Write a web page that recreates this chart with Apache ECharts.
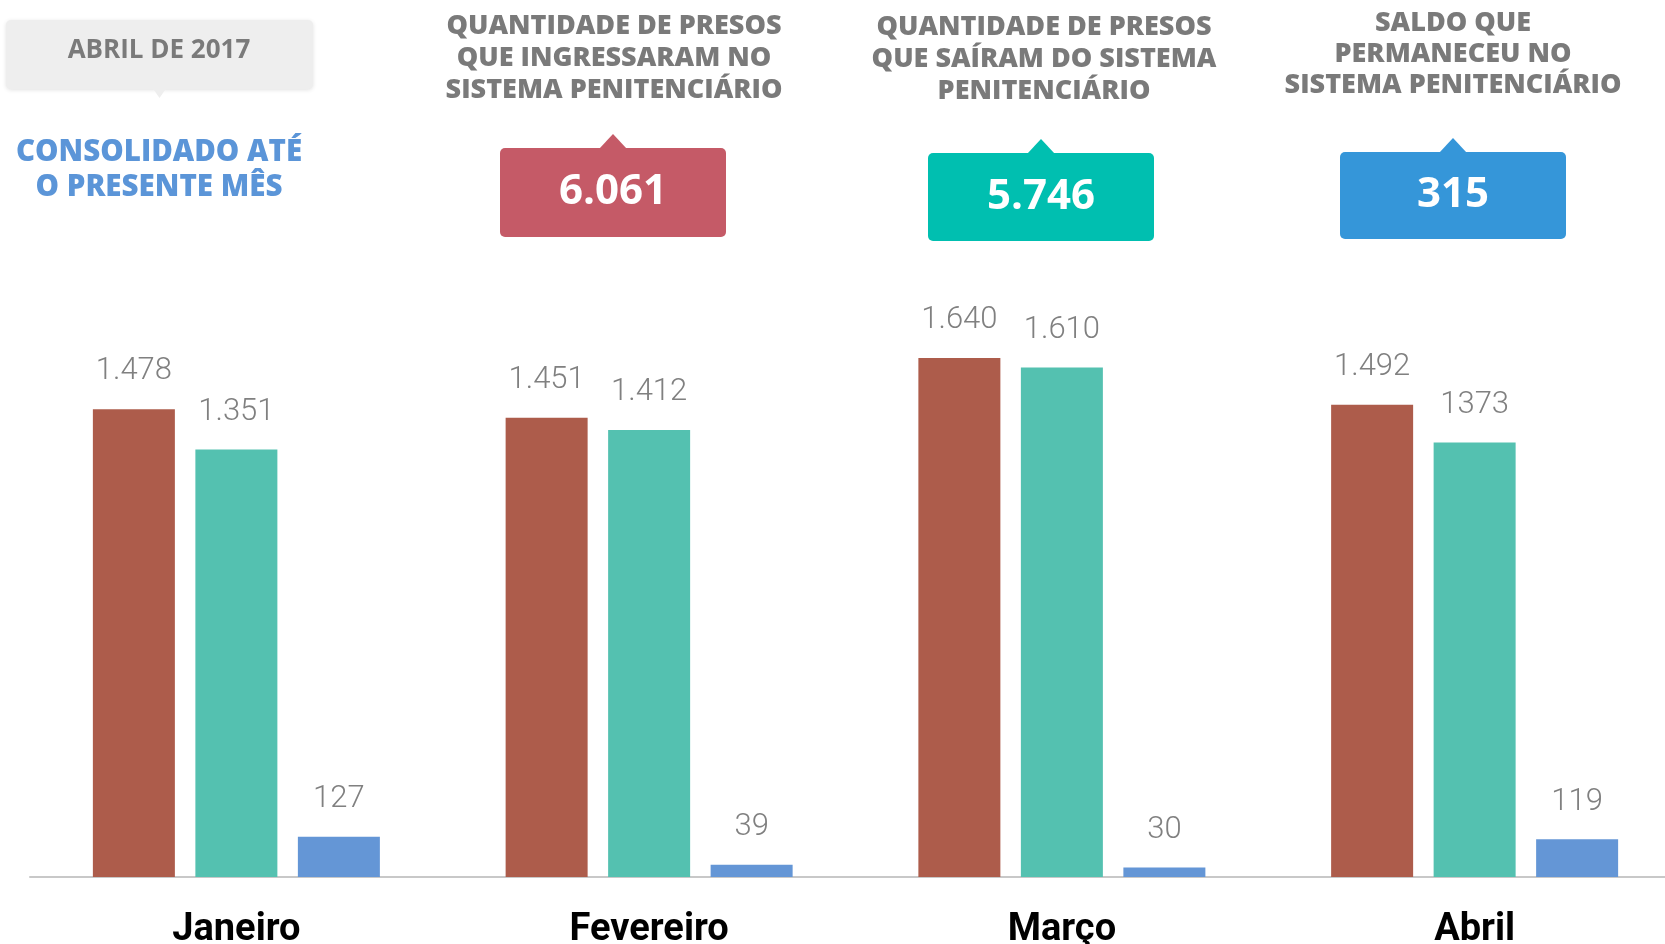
<!DOCTYPE html>
<html>
<head>
<meta charset="utf-8">
<script src="https://cdn.jsdelivr.net/npm/echarts@6/dist/echarts.min.js"></script>
<style>
  html, body { margin: 0; padding: 0; background: #fff; }
  #chart { width: 1665px; height: 944px; }
</style>
</head>
<body>
<div id="chart"></div>
<script>
// dados: presos que entraram / saíram / saldo, por mês (até abril de 2017)
const meses = ['Janeiro', 'Fevereiro', 'Março', 'Abril'];
const entradas = [1478, 1451, 1640, 1492];
const saidas = [1351, 1412, 1610, 1373];
const saldo = [127, 39, 30, 119];
// rótulos das saídas como aparecem no original (Abril sem ponto)
const rotulosSaidas = ['1.351', '1.412', '1.610', '1373'];

const fmt = v => v.toLocaleString('pt-BR');
const soma = arr => arr.reduce((a, b) => a + b, 0);

const corEntrada = '#ad5c4b';
const corSaida = '#54c1b0';
const corSaldo = '#6496d6';

const chart = echarts.init(document.getElementById('chart'));

const labelStyle = {
  show: true,
  position: 'top',
  distance: 22,
  color: '#808080',
  fontFamily: 'Roboto',
  fontWeight: 300,
  fontSize: 31
};

const headFont = { fontFamily: 'Open Sans', fontWeight: 800, fill: '#7a7a7a' };

// caixa com seta (para cima ou para baixo)
function caixa(x, y, w, h, cor, seta, extra) {
  const cx = x + w / 2;
  const tri = seta === 'up'
    ? [[cx - 14, y + 1], [cx, y - 14], [cx + 14, y + 1]]
    : [[cx - 7, y + h - 1], [cx, y + h + 9], [cx + 7, y + h - 1]];
  return [
    { type: 'rect', shape: { x, y, width: w, height: h, r: 5 }, style: Object.assign({ fill: cor }, extra || {}) },
    { type: 'polygon', shape: { points: tri }, style: { fill: cor } }
  ];
}

function texto(x, y, txt, style) {
  return {
    type: 'text', x, y,
    style: Object.assign({ text: txt, align: 'center', verticalAlign: 'middle' }, style)
  };
}

const graphic = [].concat(
  caixa(6, 20, 307, 69, '#eeeeee', 'down', { shadowBlur: 4, shadowColor: 'rgba(0,0,0,0.12)', shadowOffsetY: 1 }),
  [texto(159, 51, 'ABRIL DE 2017', Object.assign({}, headFont, { fontSize: 26, fontWeight: 'bold' }))],
  [texto(159, 170, 'CONSOLIDADO ATÉ\nO PRESENTE MÊS',
    { fontFamily: 'Open Sans', fontWeight: 800, fontSize: 29.5, lineHeight: 35, fill: '#5b95d8' })],

  [texto(614, 58, 'QUANTIDADE DE PRESOS\nQUE INGRESSARAM NO\nSISTEMA PENITENCIÁRIO',
    Object.assign({}, headFont, { fontSize: 27, lineHeight: 32 }))],
  caixa(500, 148, 226, 89, '#c55a67', 'up'),
  [texto(613, 192, fmt(soma(entradas)), { fontFamily: 'Open Sans', fontWeight: 'bold', fontSize: 42, fill: '#fff' })],

  [texto(1044, 59, 'QUANTIDADE DE PRESOS\nQUE SAÍRAM DO SISTEMA\nPENITENCIÁRIO',
    Object.assign({}, headFont, { fontSize: 27, lineHeight: 32 }))],
  caixa(928, 153, 226, 88, '#00bfb0', 'up'),
  [texto(1041, 197, fmt(soma(saidas)), { fontFamily: 'Open Sans', fontWeight: 'bold', fontSize: 42, fill: '#fff' })],

  [texto(1453, 54, 'SALDO QUE\nPERMANECEU NO\nSISTEMA PENITENCIÁRIO',
    Object.assign({}, headFont, { fontSize: 27, lineHeight: 31 }))],
  caixa(1340, 152, 226, 87, '#3596d9', 'up'),
  [texto(1453, 195, fmt(soma(saldo)), { fontFamily: 'Open Sans', fontWeight: 'bold', fontSize: 42, fill: '#fff' })]
);

chart.setOption({
  animation: false,
  grid: { left: 30, width: 1651, top: 244, bottom: 67, outerBoundsMode: 'none', containLabel: false },
  xAxis: {
    type: 'category',
    data: meses,
    axisLine: { lineStyle: { color: '#c8c8c8', width: 2 } },
    axisTick: { show: false },
    axisLabel: {
      margin: 34,
      color: '#000',
      fontFamily: 'Roboto',
      fontWeight: 'bold',
      fontSize: 38
    }
  },
  yAxis: { type: 'value', min: 0, max: 2000, show: false, splitLine: { show: false } },
  series: [
    {
      name: 'Entradas', type: 'bar', data: entradas, barWidth: 82, barGap: '25%',
      itemStyle: { color: corEntrada },
      label: Object.assign({}, labelStyle, { formatter: p => fmt(p.value) })
    },
    {
      name: 'Saídas', type: 'bar', data: saidas, barWidth: 82,
      itemStyle: { color: corSaida },
      label: Object.assign({}, labelStyle, { formatter: p => rotulosSaidas[p.dataIndex] })
    },
    {
      name: 'Saldo', type: 'bar', data: saldo, barWidth: 82,
      itemStyle: { color: corSaldo },
      label: Object.assign({}, labelStyle, { formatter: p => fmt(p.value) })
    }
  ],
  graphic
});
</script>
</body>
</html>
